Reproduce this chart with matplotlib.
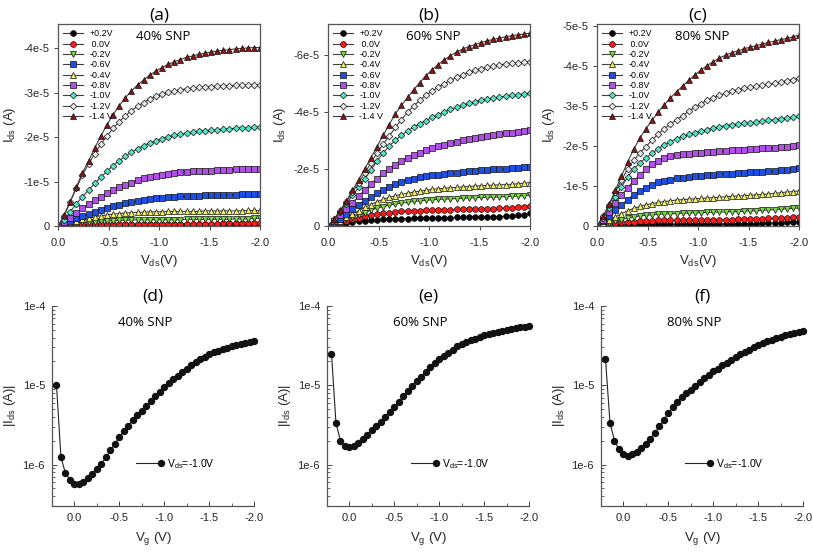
import numpy as np
import matplotlib
matplotlib.use('Agg')
import matplotlib.pyplot as plt
from matplotlib.legend_handler import HandlerLine2DCompound

# Fonts: Arial-like for axes, a Calibri/Segoe-like face for panel titles
plt.rcParams['font.family'] = 'Liberation Sans'
plt.rcParams['mathtext.fontset'] = 'custom'
plt.rcParams['mathtext.rm'] = 'Liberation Sans'
plt.rcParams['mathtext.it'] = 'Liberation Sans:italic'
title_font = 'Open Sans'

# --------------------------------------------------------------------------- #
# Output curves: Vds sweep 0 -> -2.0 V, 34 points. |Ids| in units of 1e-5 A.
vds = np.linspace(0.0, -2.0, 34)
gate_labels = ['+0.2V', ' 0.0V', '-0.2V', '-0.4V', '-0.6V', '-0.8V', '-1.0V', '-1.2V', '-1.4 V']

# (a) 40% SNP
a_p02 = [0, .005, .01, .01] + [.015] * 9 + [.02] * 20 + [.025]
a_000 = [0, .01, .02, .03, .035, .04, .045] + [.05] * 8 + [.055] * 12 + [.06] * 4 + [.065, .07, .075]
a_m02 = [0, .02, .04, .06, .08, .09, .10, .11, .12, .12, .13, .13, .135] + [.14] * 8 + [.15] * 8 + [.16] * 3 + [.17, .17]
a_m04 = [0, .04, .08, .12, .15, .18, .21, .23, .25, .27, .28, .29, .30, .31, .31, .32, .32, .32,
         .33, .33, .33, .33, .33, .33, .34, .34, .34, .34, .34, .34, .345, .35, .35, .35]
a_m06 = [0, .05, .11, .17, .22, .27, .32, .37, .41, .45, .48, .51, .54, .56, .58, .60, .62, .63,
         .645, .655, .665, .67, .68, .685, .69, .695, .70, .70, .705, .705, .71, .71, .71, .71]
a_m08 = [0, .08, .19, .30, .40, .49, .58, .66, .74, .81, .87, .92, .97, 1.03, 1.07, 1.10, 1.13,
         1.16, 1.18, 1.20, 1.21, 1.22, 1.23, 1.24, 1.25, 1.25, 1.26, 1.27, 1.27, 1.28, 1.28, 1.28, 1.29, 1.29]
a_m10 = [0, .14, .32, .50, .66, .81, .96, 1.10, 1.23, 1.36, 1.47, 1.57, 1.66, 1.74, 1.81, 1.87, 1.92,
         1.97, 2.01, 2.04, 2.07, 2.09, 2.11, 2.13, 2.15, 2.16, 2.17, 2.18, 2.19, 2.20, 2.21, 2.21, 2.22, 2.22]
a_m12 = [0, .22, .55, .85, 1.15, 1.40, 1.63, 1.84, 2.03, 2.20, 2.35, 2.48, 2.60, 2.70, 2.78, 2.86, 2.92,
         2.97, 3.01, 3.04, 3.07, 3.09, 3.11, 3.12, 3.13, 3.14, 3.15, 3.16, 3.16, 3.17, 3.17, 3.17, 3.18, 3.18]
a_m14 = [0, .25, .55, .88, 1.20, 1.47, 1.76, 2.03, 2.28, 2.51, 2.71, 2.89, 3.04, 3.18, 3.29, 3.40, 3.49,
         3.57, 3.64, 3.70, 3.75, 3.80, 3.83, 3.87, 3.89, 3.92, 3.94, 3.96, 3.97, 3.99, 4.00, 4.01, 4.02, 4.02]

# (b) 60% SNP
b_p02 = [0, .03, .07, .10, .13, .16, .19, .21, .22, .23, .24, .25, .26, .26, .27, .27, .28, .28,
         .29, .29, .29, .30, .30, .30, .31, .31, .32, .32, .33, .34, .35, .37, .40, .44]
b_000 = [0, .05, .11, .17, .23, .29, .34, .38, .42, .45, .47, .49, .51, .52, .53, .54, .55, .56,
         .56, .57, .57, .58, .58, .59, .59, .60, .61, .61, .62, .63, .64, .66, .68, .70]
b_m02 = [0, .07, .15, .23, .31, .39, .47, .55, .62, .68, .73, .77, .80, .83, .86, .88, .90, .92,
         .93, .94, .95, .96, .97, .98, .99, 1.00, 1.00, 1.01, 1.02, 1.03, 1.04, 1.05, 1.06, 1.08]
b_m04 = [0, .09, .19, .30, .42, .54, .65, .75, .85, .93, 1.00, 1.06, 1.11, 1.15, 1.19, 1.22, 1.25,
         1.28, 1.30, 1.32, 1.34, 1.35, 1.37, 1.38, 1.40, 1.41, 1.42, 1.43, 1.44, 1.45, 1.46, 1.48, 1.50, 1.52]
b_m06 = [0, .12, .26, .42, .58, .74, .89, 1.03, 1.15, 1.27, 1.38, 1.47, 1.55, 1.61, 1.66, 1.70, 1.74,
         1.77, 1.80, 1.83, 1.85, 1.87, 1.89, 1.91, 1.93, 1.95, 1.96, 1.98, 1.99, 2.01, 2.03, 2.04, 2.06, 2.08]
b_m08 = [0, .18, .38, .60, .82, 1.05, 1.26, 1.47, 1.66, 1.84, 2.00, 2.14, 2.27, 2.38, 2.48, 2.57, 2.65,
         2.72, 2.79, 2.85, 2.90, 2.95, 3.00, 3.04, 3.08, 3.12, 3.15, 3.18, 3.21, 3.24, 3.27, 3.30, 3.33, 3.37]
b_m10 = [0, .22, .48, .78, 1.07, 1.35, 1.65, 1.95, 2.28, 2.55, 2.80, 3.00, 3.18, 3.33, 3.46, 3.58, 3.69,
         3.80, 3.90, 3.99, 4.08, 4.16, 4.23, 4.29, 4.35, 4.40, 4.44, 4.48, 4.51, 4.54, 4.57, 4.60, 4.62, 4.65]
b_m12 = [0, .24, .52, .84, 1.18, 1.52, 1.86, 2.20, 2.56, 2.86, 3.15, 3.45, 3.72, 3.98, 4.20, 4.40, 4.58,
         4.72, 4.86, 4.98, 5.10, 5.20, 5.30, 5.38, 5.45, 5.51, 5.56, 5.60, 5.64, 5.67, 5.69, 5.71, 5.73, 5.75]
b_m14 = [0, .25, .55, .88, 1.25, 1.62, 2.00, 2.38, 2.78, 3.17, 3.55, 3.93, 4.22, 4.50, 4.77, 5.02, 5.26,
         5.47, 5.65, 5.82, 5.96, 6.09, 6.19, 6.28, 6.35, 6.42, 6.48, 6.53, 6.58, 6.62, 6.66, 6.69, 6.72, 6.75]

# (c) 80% SNP
c_p02 = [0, .01, .02, .02, .03, .03, .03] + [.04] * 8 + [.05] * 8 + [.06] * 4 + [.07, .07, .08, .08, .09, .10, .11]
c_000 = [0, .02, .05, .07, .09, .10, .11, .12, .13, .13, .14, .14, .14, .14, .15, .15, .15, .15,
         .15, .16, .16, .16, .16, .17, .17, .17, .18, .18, .19, .19, .20, .21, .22, .23]
c_m02 = [0, .04, .08, .12, .16, .20, .23, .25, .27, .28, .29, .30, .31, .31, .32, .32, .33, .33,
         .34, .34, .35, .35, .36, .36, .37, .38, .38, .39, .40, .41, .42, .43, .44, .45]
c_m04 = [0, .07, .15, .23, .31, .38, .44, .49, .53, .56, .59, .61, .63, .65, .66, .67, .68, .69,
         .70, .71, .72, .73, .74, .75, .76, .77, .78, .79, .80, .82, .83, .85, .86, .88]
c_m06 = [0, .12, .26, .40, .53, .66, .78, .88, .96, 1.03, 1.09, 1.13, 1.16, 1.19, 1.21, 1.23, 1.25,
         1.26, 1.27, 1.28, 1.29, 1.30, 1.31, 1.32, 1.33, 1.34, 1.35, 1.36, 1.37, 1.38, 1.39, 1.41, 1.43, 1.45]
c_m08 = [0, .16, .36, .57, .77, .96, 1.13, 1.28, 1.42, 1.54, 1.63, 1.70, 1.74, 1.77, 1.79, 1.81, 1.82,
         1.83, 1.85, 1.86, 1.87, 1.88, 1.89, 1.90, 1.91, 1.92, 1.93, 1.94, 1.95, 1.96, 1.97, 1.98, 2.00, 2.02]
c_m10 = [0, .20, .45, .72, .98, 1.22, 1.42, 1.58, 1.70, 1.82, 1.93, 2.03, 2.11, 2.18, 2.24, 2.29, 2.33,
         2.37, 2.41, 2.45, 2.48, 2.51, 2.53, 2.55, 2.57, 2.58, 2.60, 2.62, 2.64, 2.66, 2.68, 2.70, 2.72, 2.74]
c_m12 = [0, .24, .53, .85, 1.15, 1.42, 1.64, 1.83, 1.98, 2.15, 2.30, 2.43, 2.55, 2.66, 2.76, 2.87, 2.97,
         3.06, 3.14, 3.21, 3.27, 3.32, 3.37, 3.41, 3.44, 3.47, 3.49, 3.52, 3.54, 3.57, 3.60, 3.63, 3.66, 3.69]
c_m14 = [0, .25, .55, .90, 1.25, 1.60, 1.92, 2.20, 2.43, 2.65, 2.85, 3.03, 3.20, 3.36, 3.50, 3.64, 3.78,
         3.90, 4.01, 4.11, 4.20, 4.27, 4.33, 4.38, 4.43, 4.47, 4.51, 4.55, 4.59, 4.62, 4.66, 4.69, 4.73, 4.77]

# --------------------------------------------------------------------------- #
# Transfer curves: Vg sweep +0.2 -> -2.0 V (45 points), |Ids| in A at Vds=-1.0V
vg = np.linspace(0.2, -2.0, 45)
d_ids = [1.0e-5, 1.23e-6, 7.76e-7, 6.46e-7, 5.62e-7, 5.75e-7, 6.03e-7, 6.76e-7, 7.59e-7, 8.71e-7,
         1.02e-6, 1.23e-6, 1.51e-6, 1.82e-6, 2.24e-6, 2.63e-6, 3.09e-6, 3.63e-6, 4.17e-6, 4.79e-6,
         5.50e-6, 6.31e-6, 7.24e-6, 8.32e-6, 9.55e-6, 1.07e-5, 1.20e-5, 1.32e-5, 1.48e-5, 1.62e-5,
         1.78e-5, 1.95e-5, 2.14e-5, 2.29e-5, 2.45e-5, 2.60e-5, 2.72e-5, 2.85e-5, 2.95e-5, 3.09e-5,
         3.20e-5, 3.31e-5, 3.43e-5, 3.51e-5, 3.59e-5]
e_ids = [2.51e-5, 3.31e-6, 2.00e-6, 1.70e-6, 1.66e-6, 1.70e-6, 1.86e-6, 2.09e-6, 2.34e-6, 2.69e-6,
         3.02e-6, 3.47e-6, 3.98e-6, 4.57e-6, 5.25e-6, 6.17e-6, 7.24e-6, 8.51e-6, 9.77e-6, 1.14e-5,
         1.29e-5, 1.48e-5, 1.70e-5, 1.91e-5, 2.14e-5, 2.34e-5, 2.57e-5, 2.82e-5, 3.09e-5, 3.31e-5,
         3.51e-5, 3.72e-5, 3.89e-5, 4.07e-5, 4.27e-5, 4.42e-5, 4.57e-5, 4.73e-5, 4.90e-5, 5.01e-5,
         5.13e-5, 5.25e-5, 5.37e-5, 5.50e-5, 5.56e-5]
f_ids = [2.14e-5, 3.39e-6, 2.00e-6, 1.55e-6, 1.35e-6, 1.30e-6, 1.35e-6, 1.46e-6, 1.62e-6, 1.82e-6,
         2.11e-6, 2.51e-6, 3.02e-6, 3.63e-6, 4.47e-6, 5.25e-6, 6.17e-6, 7.08e-6, 7.94e-6, 8.81e-6,
         9.77e-6, 1.10e-5, 1.22e-5, 1.35e-5, 1.50e-5, 1.62e-5, 1.78e-5, 1.93e-5, 2.09e-5, 2.26e-5,
         2.45e-5, 2.63e-5, 2.82e-5, 3.02e-5, 3.24e-5, 3.39e-5, 3.59e-5, 3.76e-5, 3.94e-5, 4.12e-5,
         4.27e-5, 4.42e-5, 4.52e-5, 4.68e-5, 4.79e-5]

# Tick values / labels
xticks = [0.0, -0.5, -1.0, -1.5, -2.0]
xticklabels = ['0.0', '-0.5', '-1.0', '-1.5', '-2.0']
yticks_a = [0, -1e-5, -2e-5, -3e-5, -4e-5]
ylabels_a = ['0', '-1e-5', '-2e-5', '-3e-5', '-4e-5']
yticks_b = [0, -2e-5, -4e-5, -6e-5]
ylabels_b = ['0', '-2e-5', '-4e-5', '-6e-5']
yticks_c = [0, -1e-5, -2e-5, -3e-5, -4e-5, -5e-5]
ylabels_c = ['0', '-1e-5', '-2e-5', '-3e-5', '-4e-5', '-5e-5']
yticks_log = [1e-6, 1e-5, 1e-4]
ylabels_log = ['1e-6', '1e-5', '1e-4']

# --------------------------------------------------------------------------- #
# Marker styles for each gate voltage (same order as gate_labels)
markers = ['o', 'o', 'v', '^', 's', 's', 'D', 'D', '^']
faces = ['#000000', '#ff1a1a', '#78dc3c', '#f2f25a', '#1f4fe0', '#b050e6', '#52e6c6', '#e6e6e6', '#8a1414']
msizes = [4.2, 4.2, 4.4, 4.4, 4.0, 4.0, 3.4, 3.4, 4.4]

panels_top = [
    ('(a)', '40% SNP', [a_p02, a_000, a_m02, a_m04, a_m06, a_m08, a_m10, a_m12, a_m14],
     [0, 1, 2, 4, 3, 5, 6, 7, 8], -4.55e-5, yticks_a, ylabels_a, [58, 24]),
    ('(b)', '60% SNP', [b_p02, b_000, b_m02, b_m04, b_m06, b_m08, b_m10, b_m12, b_m14],
     [0, 1, 2, 3, 4, 5, 6, 7, 8], -7.07e-5, yticks_b, ylabels_b, [328, 24]),
    ('(c)', '80% SNP', [c_p02, c_000, c_m02, c_m04, c_m06, c_m08, c_m10, c_m12, c_m14],
     [0, 1, 2, 3, 4, 5, 6, 7, 8], -5.05e-5, yticks_c, ylabels_c, [597, 24]),
]
panels_bot = [
    ('(d)', '40% SNP', d_ids, [52, 306]),
    ('(e)', '60% SNP', e_ids, [327, 306]),
    ('(f)', '80% SNP', f_ids, [601, 306]),
]

W, H = 813.0, 552.0
fig = plt.figure(figsize=(8.13, 5.52), dpi=100)
axcol = '#262626'


class EndMarkerHandler(HandlerLine2DCompound):
    # SigmaPlot style: marker at the right end of the legend line
    def get_xdata(self, legend, xdescent, ydescent, width, height, fontsize):
        xdata = np.array([-xdescent, -xdescent + width])
        return xdata, np.array([-xdescent + width])


# --------------------------------------------------------------------------- #
# Top row: output characteristics
for title, snp, curves, order, ytop, yt, yl, (px, py) in panels_top:
    ax = fig.add_axes([px / W, 1 - (py + 202) / H, 202 / W, 202 / H])
    handles = []
    for i, vals in enumerate(curves):
        h, = ax.plot(vds, -1e-5 * np.array(vals), color='#404040', lw=0.8,
                     marker=markers[i], ms=msizes[i], mfc=faces[i], mec='#111111', mew=0.5)
        handles.append(h)
    ax.set_xlim(0, -2.0)
    ax.set_ylim(0, ytop)
    ax.set_xticks(xticks)
    ax.set_xticklabels(xticklabels)
    ax.set_yticks(yt)
    ax.set_yticklabels(yl)
    ax.tick_params(direction='out', length=3, width=0.6, labelsize=8, colors=axcol, pad=3)
    ax.tick_params(axis='x', pad=6)
    for s in ax.spines.values():
        s.set_color('#555555')
        s.set_linewidth(0.9)
    ax.set_xlabel(r'V$_{\mathrm{ds}}$(V)', fontsize=9.5, color=axcol, labelpad=3)
    ax.set_ylabel(r'I$_{\mathrm{ds}}$ (A)', fontsize=9.5, color=axcol, labelpad=4)
    ax.set_title(title, fontsize=12.5, family=title_font, pad=3)
    ax.text(0.52, 0.94, snp, transform=ax.transAxes, ha='center', va='center',
            fontsize=9.5, family=title_font)
    ax.legend([handles[j] for j in order], [gate_labels[j] for j in order],
              loc='upper left', bbox_to_anchor=(0.0, 1.0), frameon=False, fontsize=6.4,
              labelspacing=0.15, handlelength=2.2, handletextpad=0.7, borderaxespad=0.3,
              borderpad=0.3)

# --------------------------------------------------------------------------- #
# Bottom row: transfer characteristics (log scale)
for title, snp, ids, (px, py) in panels_bot:
    ax = fig.add_axes([px / W, 1 - (py + 200) / H, 202 / W, 200 / H])
    h, = ax.plot(vg, ids, color='#222222', lw=0.8, marker='o', ms=4.3,
                 mfc='#111111', mec='#111111', clip_on=False)
    ax.set_yscale('log')
    ax.set_xlim(0.2, -2.0)
    ax.set_ylim(3e-7, 1e-4)
    ax.set_xticks(xticks)
    ax.set_xticklabels(xticklabels)
    ax.set_xticks([0.25, -0.25, -0.75, -1.25, -1.75], minor=True)
    ax.set_yticks(yticks_log)
    ax.set_yticklabels(ylabels_log)
    ax.tick_params(which='major', direction='in', length=3.5, width=0.6, labelsize=8,
                   colors=axcol, pad=5)
    ax.tick_params(which='minor', direction='in', length=2, width=0.5, colors=axcol)
    ax.tick_params(axis='y', which='minor', labelleft=False)
    for side in ['top', 'right']:
        ax.spines[side].set_visible(False)
    for side in ['left', 'bottom']:
        ax.spines[side].set_color('#555555')
        ax.spines[side].set_linewidth(0.9)
    ax.set_xlabel(r'V$_{\mathrm{g}}$ (V)', fontsize=9.5, color=axcol, labelpad=5)
    ax.set_ylabel(r'|I$_{\mathrm{ds}}$ (A)|', fontsize=9.5, color=axcol, labelpad=3)
    ax.set_title(title, fontsize=12.5, family=title_font, pad=4)
    ax.text(0.46, 0.92, snp, transform=ax.transAxes, ha='center', va='center',
            fontsize=9.5, family=title_font)
    ax.legend([h], [r'V$_{\mathrm{ds}}$=-1.0V'], loc='center left',
              bbox_to_anchor=(0.37, 0.21), frameon=False, fontsize=7.5,
              handlelength=2.4, handletextpad=0.6,
              handler_map={h: EndMarkerHandler()})

fig.savefig('out.png', dpi=100)
